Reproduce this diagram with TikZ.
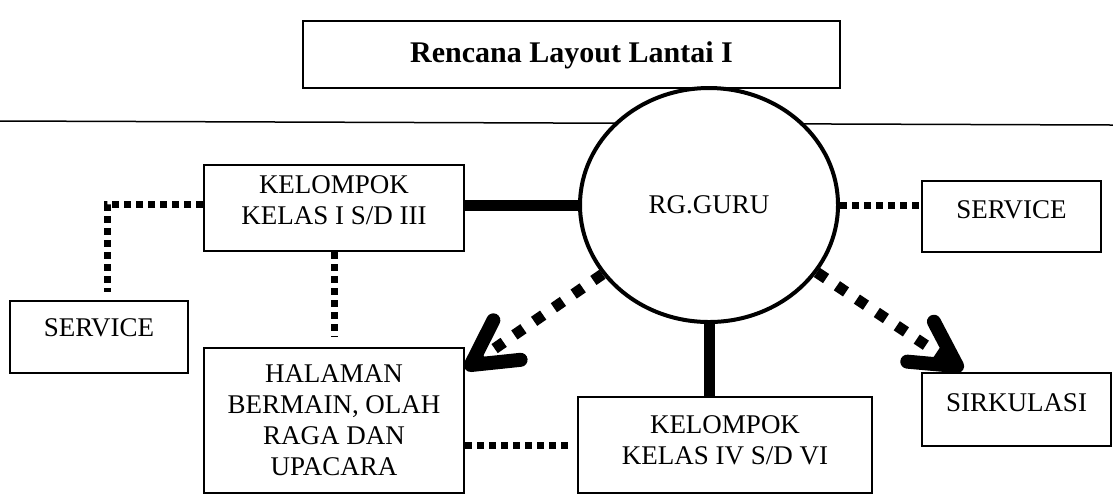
\documentclass[tikz,border=0pt]{standalone}
\usepackage{fontspec}
\setmainfont{Liberation Serif}
\usetikzlibrary{arrows.meta,shapes.geometric}

\begin{document}
\begin{tikzpicture}[x=0.5pt,y=0.5pt,
    box/.style={draw,line width=1pt,align=center,inner sep=0pt,
      font=\fontsize{13.5}{15.5}\selectfont},
    dots/.style={line width=3.5pt,dash pattern=on 3.5pt off 2.5pt},
    thickline/.style={line width=5.5pt},
    flow/.style={line width=5.5pt,dash pattern=on 5.5pt off 6.5pt,
      -{Straight Barb[length=22pt,width=24pt,line width=7pt,round]}}]
  \useasboundingbox (0,0) rectangle (1113,-495);
  \node[box,minimum width=268.5pt,minimum height=33.5pt,text depth=2.5pt,
    font=\fontsize{15}{18}\selectfont\bfseries] (title) at (571.5,-54.5) {Rencana Layout Lantai I};
  \draw[line width=0.75pt] (0,-121) -- (1113,-125);
  \node[draw,ellipse,line width=2pt,fill=white,inner sep=0pt,minimum width=129pt,minimum height=117pt,
    font=\fontsize{13.5}{15.5}\selectfont] (guru) at (709,-205) {RG.GURU};
  \node[box,minimum width=130pt,minimum height=43pt,text depth=7.5pt] (kel1) at (334,-208) {KELOMPOK\\KELAS I S/D III};
  \node[box,minimum width=89pt,minimum height=36pt,text depth=9pt] (svcL) at (99,-337) {SERVICE};
  \node[box,minimum width=130pt,minimum height=72.5pt] (hal) at (334,-420.5) {HALAMAN\\BERMAIN, OLAH\\RAGA DAN\\UPACARA};
  \node[box,minimum width=147pt,minimum height=48pt,text depth=4.5pt] (kel2) at (725,-445) {KELOMPOK\\KELAS IV S/D VI};
  \node[box,minimum width=89.5pt,minimum height=35.5pt,text depth=6.5pt] (svcR) at (1011.5,-216.5) {SERVICE};
  \node[box,minimum width=94.5pt,minimum height=36.5pt,text depth=6.5pt] (sirk) at (1016.5,-409.5) {SIRKULASI};
  \draw[thickline] (guru.west) -- (guru.west -| kel1.east);
  \draw[dots,shorten >=4pt] ([yshift=2pt]kel1.west) -| ([xshift=4pt]svcL.north);
  \draw[dots,shorten >=5pt] (kel1.south) -- (kel1.south |- hal.north);
  \draw[dots,shorten >=4pt] (kel2.west -| hal.east) -- (kel2.west);
  \draw[thickline] (guru.south) -- (guru.south |- kel2.north);
  \draw[dots] (guru.east) -- (guru.east -| svcR.west);
  \draw[flow] (guru.213) -- ([yshift=-11pt]hal.north east);
  \draw[flow] (guru.-32) -- ([xshift=21pt,yshift=1pt]sirk.north west);
\end{tikzpicture}
\end{document}
